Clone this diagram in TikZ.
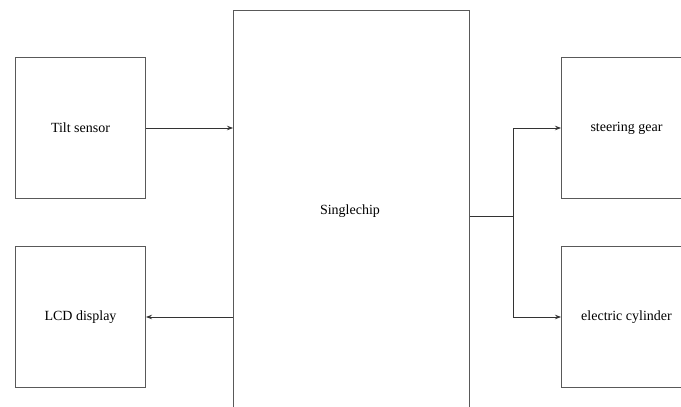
\documentclass[tikz,border=0pt]{standalone}
\usepackage{fontspec}
\setmainfont{Liberation Serif}
\newfontfamily\tnr{Liberation Serif}
\usetikzlibrary{arrows.meta}
\begin{document}
\begin{tikzpicture}[x=1pt,y=-1pt,
  lbl/.style={font=\tnr\fontsize{14}{16}\selectfont},
  box/.style={draw=black!65, line width=1pt, minimum width=130pt, minimum height=141pt, inner sep=0pt, lbl, anchor=north west},
  conn/.style={draw=black!80, line width=0.8pt},
  arr/.style={conn, -{Stealth[length=6pt,width=4.5pt]}}]
\useasboundingbox (0,0) rectangle (681,407);
\clip (0,0) rectangle (681,407);
\node[box] (tilt) at (15,57) {Tilt sensor};
\node[box] (lcd) at (15,246) {LCD display};
\node[box, minimum width=236pt, minimum height=404pt] (chip) at (233,10) {};
\node[lbl] (chiplabel) at (350,211) {Singlechip};
\node[box] (steer) at (561,57) {steering gear};
\node[box] (cyl) at (561,246) {electric cylinder};
\coordinate (j) at (513,216);
\draw[arr] (tilt.east |- 0,128) -- (chip.west |- 0,128);
\draw[arr] (chip.west |- 0,317) -- (lcd.east |- 0,317);
\draw[conn] (chip.east |- j) -- (j);
\draw[arr] (j) |- (steer.west |- 0,128);
\draw[arr] (j) |- (cyl.west |- 0,317);
\end{tikzpicture}
\end{document}
